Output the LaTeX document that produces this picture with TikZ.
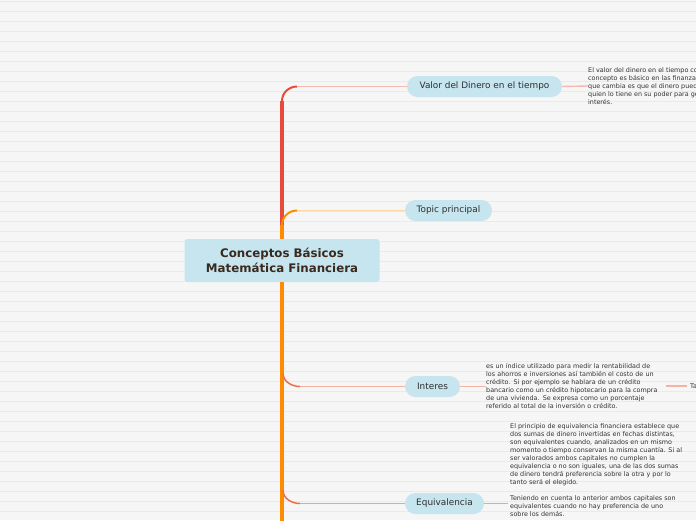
\documentclass[tikz,border=0pt]{standalone}
\usepackage{fontspec}
\setmainfont{DejaVu Sans}
\usetikzlibrary{calc}
\definecolor{bgc}{HTML}{F6F6F6}
\definecolor{bgline}{HTML}{EAEAEA}
\definecolor{nodefill}{HTML}{C6E5EF}
\definecolor{titletext}{HTML}{3A2A1E}
\definecolor{nodetext}{HTML}{2E2E2E}
\definecolor{trunkred}{HTML}{E84A3C}
\definecolor{trunkorange}{HTML}{FF8C00}
\definecolor{pinkline}{HTML}{F5B9AE}
\definecolor{peachline}{HTML}{FAD7A4}
\definecolor{salmon}{HTML}{EF6E4E}
\definecolor{salmonline}{HTML}{F3B4A2}
\definecolor{salmonline2}{HTML}{F0A38C}
\definecolor{smalltext}{HTML}{333333}
\tikzset{
  titlebox/.style={fill=nodefill, rounded corners=3pt, minimum width=195pt, minimum height=43pt,
    align=center, text=titletext, font=\fontsize{11.8}{14.5}\selectfont\bfseries, inner sep=0pt},
  pill/.style={fill=nodefill, rounded corners=10.5pt, minimum height=21pt, text=nodetext,
    font=\fontsize{8.9}{10.5}\selectfont, inner sep=0pt},
  note/.style={anchor=west, align=left, text=smalltext, font=\fontsize{6.4}{8}\selectfont, inner sep=0pt},
  trunkline/.style={line width=4pt},
  bendline/.style={line width=2pt},
  twigline/.style={line width=1.4pt},
}
\begin{document}
\begin{tikzpicture}[x=1pt,y=-1pt]
\useasboundingbox (0,0) rectangle (696,520);
\clip (0,0) rectangle (696,520);
\fill[bgc] (0,0) rectangle (696,520);
\foreach \yy in {1,11,...,511} \draw[bgline, line width=0.8pt] (0,\yy) -- (696,\yy);

% nodes
\node[titlebox] (c) at (282,260.5) {Conceptos Básicos\\Matemática Financiera};
\node[pill, minimum width=155pt] (v) at (484.5,86.5) {Valor del Dinero en el tiempo};
\node[pill, minimum width=87pt] (t) at (448.5,210.5) {Topic principal};
\node[pill, minimum width=55pt] (i) at (432.5,386.5) {Interes};
\node[pill, minimum width=79pt] (e) at (444.5,503.5) {Equivalencia};

\node[note] (vt) at (588,86) {El valor del dinero en el tiempo como\\concepto es básico en las finanzas. Lo\\que cambia es que el dinero puede\\quien lo tiene en su poder para generar\\interés.};
\node[note, text width=177pt] (it) at (486,386) {es un índice utilizado para medir la rentabilidad de\\los ahorros e inversiones así también el costo de un\\crédito. Si por ejemplo se hablara de un crédito\\bancario como un crédito hipotecario para la compra\\de una vivienda. Se expresa como un porcentaje\\referido al total de la inversión o crédito.};
\node[note] (ta) at (690,386) {Tasa de interés};
\node[note] (et) at (510,470) {El principio de equivalencia financiera establece que\\dos sumas de dinero invertidas en fechas distintas,\\son equivalentes cuando, analizados en un mismo\\momento o tiempo conservan la misma cuantía. Si al\\ser valorados ambos capitales no cumplen la\\equivalencia o no son iguales, una de las dos sumas\\de dinero tendrá preferencia sobre la otra y por lo\\tanto será el elegido.\\[8pt]Teniendo en cuenta lo anterior ambos capitales son\\equivalentes cuando no hay preferencia de uno\\sobre los demás.};

% coordinates for the trunk
\coordinate (vk) at (282,101);
\coordinate (vh) at (297,86.5);
\coordinate (tk) at (282,225);
\coordinate (th) at (297,210.5);
\coordinate (ik) at (283,373);
\coordinate (ih) at (300,386.5);
\coordinate (ek) at (283,490);
\coordinate (eh) at (300,503.5);
\coordinate (bottom) at (282,522);

% red branch to Valor
\draw[trunkred, trunkline] (c.north) -- (vk);
\draw[trunkred, bendline] (vk) to[out=90,in=180] (vh);
\draw[pinkline, twigline] (vh) -- (v.west);
% orange branch to Topic
\draw[trunkorange, trunkline] (c.north) -- (tk);
\draw[trunkorange, bendline] (tk) to[out=90,in=180] (th);
\draw[peachline, twigline] (th) -- (t.west);
% lower trunk
\draw[trunkorange, line width=4.5pt] (c.south) -- (bottom);
\draw[salmon, line width=1.5pt] (ik) to[out=-90,in=180] (ih);
\draw[salmonline, twigline] (ih) -- (i.west);
\draw[salmon, line width=1.5pt] (ek) to[out=-90,in=180] (eh);
\draw[salmonline2, twigline] (eh) -- (e.west);

% leaf connectors
\draw[pinkline, twigline] (v.east) -- (vt.west);
\draw[salmonline, twigline] (i.east) -- (it.west |- i.east);
\draw[salmonline, twigline] ($(it.east)+(3,0)$) -- ($(ta.west)+(-3,0)$);
\draw[salmonline2, twigline] (e.east) -- ($(et.west |- e.east)+(-2,0)$);
\end{tikzpicture}
\end{document}
